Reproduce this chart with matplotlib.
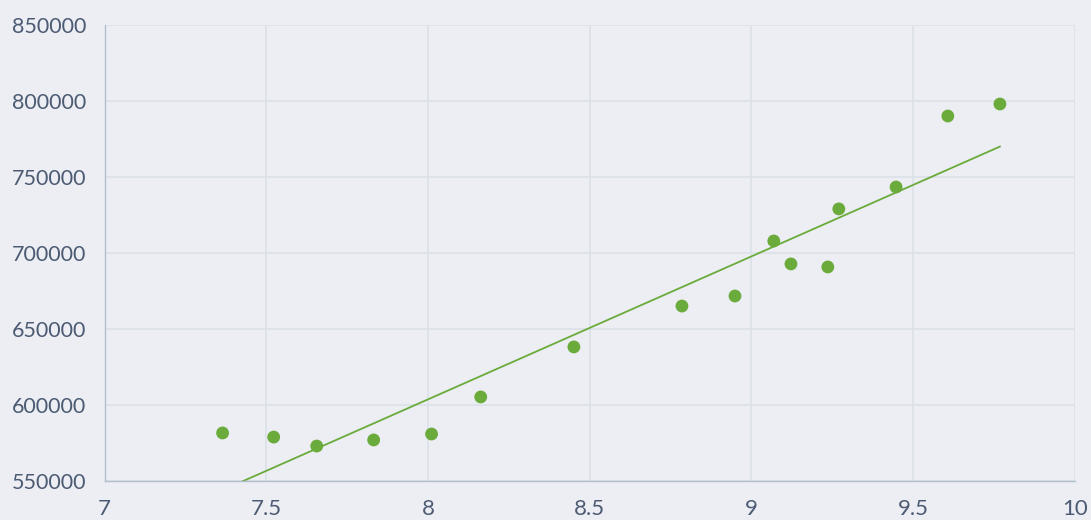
import numpy as np
import matplotlib.pyplot as plt

# scatter values
x = [7.365, 7.523, 7.656, 7.832, 8.011, 8.163, 8.451, 8.785,
     8.949, 9.069, 9.122, 9.236, 9.270, 9.447, 9.607, 9.768]
y = [581600, 578900, 573000, 577000, 580900, 605300, 638200, 665100,
     671700, 707900, 692800, 690800, 729000, 743400, 790100, 798000]

xticks = [7, 7.5, 8, 8.5, 9, 9.5, 10]
yticks = [550000, 600000, 650000, 700000, 750000, 800000, 850000]

bg = '#eceef3'
green = '#6aab3b'
txt = '#4c5b73'

plt.rcParams['font.family'] = ['Lato', 'DejaVu Sans']

fig = plt.figure(figsize=(10.91, 5.20), dpi=100, facecolor=bg)
ax = fig.add_axes([0.0958, 0.075, 0.8895, 0.877])
ax.set_facecolor(bg)

# trend line
k, b = np.polyfit(x, y, 1)
xs = np.array([min(x), max(x)])
ax.plot(xs, k * xs + b, color=green, lw=1.3, zorder=2)
ax.scatter(x, y, s=85, color=green, edgecolors='none', zorder=3)

ax.set_xlim(7, 10)
ax.set_ylim(550000, 850000)
ax.set_xticks(xticks)
ax.set_yticks(yticks)
ax.set_xticklabels([f'{t:g}' for t in xticks])
ax.set_yticklabels([str(t) for t in yticks])
ax.grid(True, color='#dce0e7', lw=1.2)
ax.set_axisbelow(True)
for s in ['top', 'right']:
    ax.spines[s].set_visible(False)
for s in ['left', 'bottom']:
    ax.spines[s].set_color('#b3bfcd')
    ax.spines[s].set_linewidth(1)
ax.tick_params(axis='y', length=0, labelsize=15.5, labelcolor=txt, pad=13)
ax.tick_params(axis='x', length=0, labelsize=16, labelcolor=txt, pad=13)

fig.savefig('out.png', dpi=100, facecolor=bg)
